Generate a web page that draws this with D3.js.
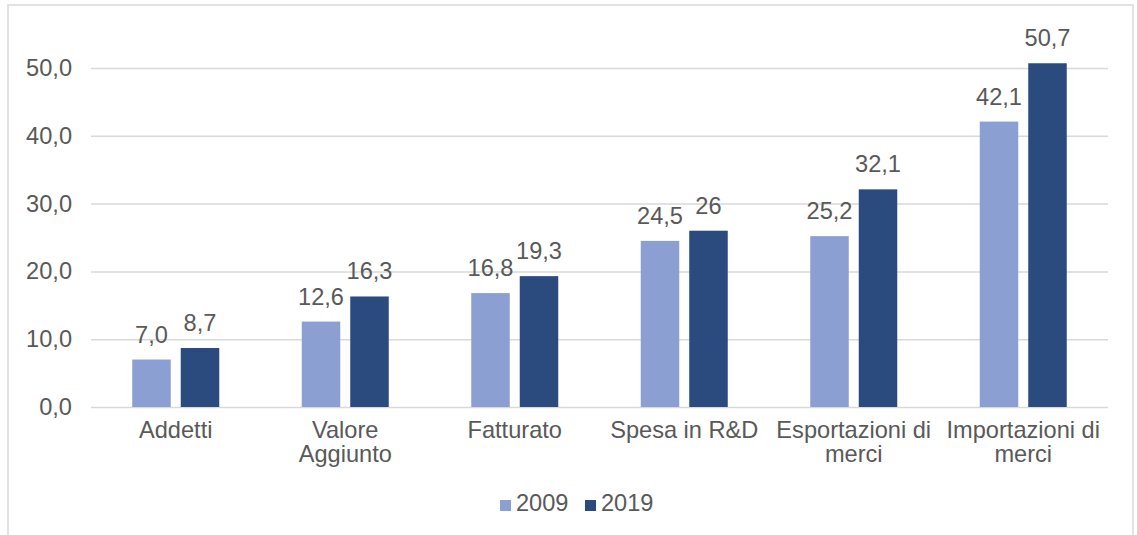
<!DOCTYPE html>
<html>
<head>
<meta charset="utf-8">
<script src="https://cdn.jsdelivr.net/npm/d3@7"></script>
<style>
  body { margin: 0; background: #fff; }
  svg text { font-family: "Liberation Sans", Arial, sans-serif; fill: #595959; }
</style>
</head>
<body>
<div id="chart"></div>
<script>
// data
var categories = ["Addetti", "Valore Aggiunto", "Fatturato", "Spesa in R&D", "Esportazioni di merci", "Importazioni di merci"];
var categoryLines = [["Addetti"], ["Valore", "Aggiunto"], ["Fatturato"], ["Spesa in R&D"], ["Esportazioni di", "merci"], ["Importazioni di", "merci"]];
var series = ["2009", "2019"];
var values2009 = [7.0, 12.6, 16.8, 24.5, 25.2, 42.1];
var values2019 = [8.7, 16.3, 19.3, 26, 32.1, 50.7];
var labels2009 = ["7,0", "12,6", "16,8", "24,5", "25,2", "42,1"];
var labels2019 = ["8,7", "16,3", "19,3", "26", "32,1", "50,7"];
var yTicks = [0, 10, 20, 30, 40, 50];
var colors = {"2009": "#8c9fd3", "2019": "#2b4a7e"};

var W = 1137, H = 535;
var fontSize = 23.6;

var svg = d3.select("#chart").append("svg")
  .attr("width", W).attr("height", H);

// outer frame (bottom goes past the picture)
svg.append("rect")
  .attr("x", 8).attr("y", 5)
  .attr("width", 1125).attr("height", 560)
  .attr("fill", "none")
  .attr("stroke", "#d9d9d9")
  .attr("stroke-width", 1.5);

var plot = {left: 91, right: 1108, top: 68, bottom: 407};

var y = d3.scaleLinear().domain([0, 50]).range([plot.bottom, plot.top]);
var x0 = d3.scaleBand().domain(categories).range([plot.left, plot.right]).padding(0);
var x1 = d3.scaleBand().domain(series)
  .range([(x0.bandwidth() - 87) / 2, (x0.bandwidth() + 87) / 2])
  .paddingInner(0.206);

// gridlines
var yAxis = d3.axisLeft(y)
  .tickValues(yTicks)
  .tickSize(-(plot.right - plot.left))
  .tickPadding(19)
  .tickFormat(function(d) { return d3.format(".1f")(d).replace(".", ","); });

var gy = svg.append("g")
  .attr("transform", "translate(" + plot.left + ",0)")
  .call(yAxis);
gy.select(".domain").remove();
gy.selectAll(".tick line").attr("stroke", "#d9d9d9").attr("stroke-width", 1.5);
gy.selectAll(".tick text")
  .style("font-size", fontSize + "px")
  .attr("fill", "#595959");

// bars
var rows = categories.map(function(c, i) {
  return {cat: c, vals: [
    {s: "2009", v: values2009[i], label: labels2009[i]},
    {s: "2019", v: values2019[i], label: labels2019[i]}
  ]};
});

var groups = svg.selectAll("g.group")
  .data(rows).enter()
  .append("g")
  .attr("class", "group")
  .attr("transform", function(d) { return "translate(" + x0(d.cat) + ",0)"; });

groups.selectAll("rect")
  .data(function(d) { return d.vals; }).enter()
  .append("rect")
  .attr("x", function(d) { return x1(d.s); })
  .attr("y", function(d) { return y(d.v); })
  .attr("width", x1.bandwidth())
  .attr("height", function(d) { return y(0) - y(d.v); })
  .attr("fill", function(d) { return colors[d.s]; });

groups.selectAll("text.val")
  .data(function(d) { return d.vals; }).enter()
  .append("text")
  .attr("class", "val")
  .attr("x", function(d) { return x1(d.s) + x1.bandwidth() / 2; })
  .attr("y", function(d) { return y(d.v) - 17; })
  .attr("text-anchor", "middle")
  .style("font-size", fontSize + "px")
  .text(function(d) { return d.label; });

// category labels
svg.selectAll("text.cat")
  .data(categories).enter()
  .append("text")
  .attr("class", "cat")
  .attr("text-anchor", "middle")
  .attr("x", function(d) { return x0(d) + x0.bandwidth() / 2; })
  .attr("y", 438)
  .style("font-size", fontSize + "px")
  .each(function(d, i) {
    var t = d3.select(this);
    categoryLines[i].forEach(function(line, j) {
      t.append("tspan")
        .attr("x", x0(d) + x0.bandwidth() / 2)
        .attr("dy", j === 0 ? 0 : 24)
        .text(line);
    });
  });

// legend
var legendX = [500, 585];
var legend = svg.selectAll("g.legend")
  .data(series).enter()
  .append("g")
  .attr("class", "legend")
  .attr("transform", function(d, i) { return "translate(" + legendX[i] + ",500)"; });

legend.append("rect")
  .attr("width", 11).attr("height", 11)
  .attr("fill", function(d) { return colors[d]; });

legend.append("text")
  .attr("x", 16).attr("y", 11)
  .style("font-size", fontSize + "px")
  .text(function(d) { return d; });
</script>
</body>
</html>
